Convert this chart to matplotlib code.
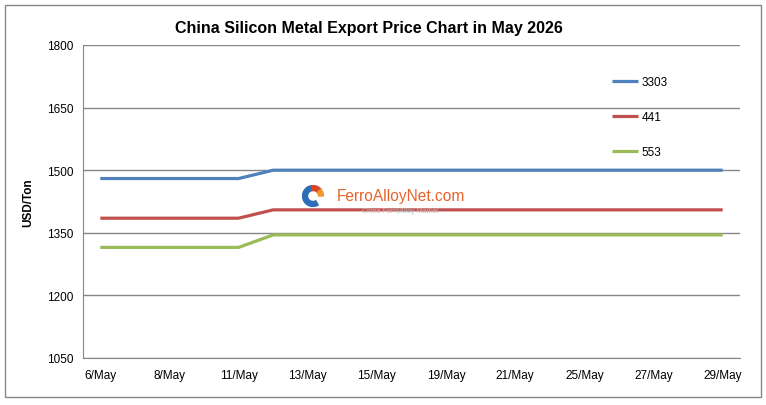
import matplotlib
matplotlib.use("Agg")
import matplotlib.pyplot as plt
import matplotlib.patches as patches

plt.rcParams["font.family"] = ["Liberation Sans", "DejaVu Sans"]

dates = ["6/May", "7/May", "8/May", "9/May", "11/May", "12/May", "13/May", "14/May",
         "15/May", "18/May", "19/May", "20/May", "21/May", "22/May", "25/May",
         "26/May", "27/May", "28/May", "29/May"]
si_3303 = [1480, 1480, 1480, 1480, 1480] + [1500] * 14
si_441 = [1385, 1385, 1385, 1385, 1385] + [1405] * 14
si_553 = [1315, 1315, 1315, 1315, 1315] + [1345] * 14
y_ticks = [1050, 1200, 1350, 1500, 1650, 1800]

fig = plt.figure(figsize=(7.66, 4.06), dpi=100)
ax = fig.add_axes([83 / 766, 1 - 359 / 406, (740 - 83) / 766, (359 - 46) / 406])

x = list(range(len(dates)))
ax.plot(x, si_3303, color="#4F81BD", lw=2.3, label="3303", solid_capstyle="butt", zorder=3)
ax.plot(x, si_441, color="#C0504D", lw=2.3, label="441", solid_capstyle="butt", zorder=3)
ax.plot(x, si_553, color="#9BBB59", lw=2.3, label="553", solid_capstyle="butt", zorder=3)

ax.set_xlim(-0.5, len(dates) - 0.5)
ax.set_ylim(1050, 1800)
ax.set_yticks(y_ticks)
ax.set_xticks(x[::2])
ax.set_xticklabels(dates[::2])
ax.tick_params(length=0, labelsize=8.5, colors="black")
ax.tick_params(axis="x", pad=8)
ax.tick_params(axis="y", pad=7)
ax.grid(axis="y", color="#868686", lw=1)
ax.set_axisbelow(True)
for side in ["top", "right"]:
    ax.spines[side].set_visible(False)
for side in ["left", "bottom"]:
    ax.spines[side].set_color("#868686")

ax.set_ylabel("USD/Ton", fontsize=8.5, fontweight="bold", labelpad=9)
fig.text(0.481, 1 - 29 / 406, "China Silicon Metal Export Price Chart in May 2026",
         ha="center", va="center", fontsize=11.5, fontweight="bold")

ax.legend(loc="upper left", bbox_to_anchor=(0.789, 0.935), frameon=False, fontsize=8.5,
          handlelength=2.2, handletextpad=0.3, labelspacing=1.95)

# watermark
fig.text(337 / 766, 1 - 196 / 406, "FerroAlloyNet.com", color="#E8632B", fontsize=11.2,
         ha="left", va="center", zorder=1)
fig.text(400 / 766, 1 - 212 / 406, "China FerroAlloy Market", color="#BBBBBB", fontsize=5,
         ha="center", va="center", zorder=1)
logo = fig.add_axes([302 / 766, 1 - 208 / 406, 22 / 766, 22 / 406])
logo.set_xlim(-1, 1)
logo.set_ylim(-1, 1)
logo.set_aspect("equal")
logo.axis("off")
logo.add_patch(patches.Wedge((0, 0), 0.95, 100, 300, width=0.45, color="#2E6DB5"))
logo.add_patch(patches.Wedge((0, 0), 0.95, 40, 100, width=0.45, color="#D9452B"))
logo.add_patch(patches.Wedge((0, 0), 0.95, 0, 40, width=0.45, color="#F0962E"))

# outer border
fig.patches.append(patches.Rectangle((5 / 766, 8 / 406), 756 / 766, 392 / 406,
                                     transform=fig.transFigure, fill=False,
                                     edgecolor="#868686", lw=1))

fig.savefig("out.png", dpi=100)
